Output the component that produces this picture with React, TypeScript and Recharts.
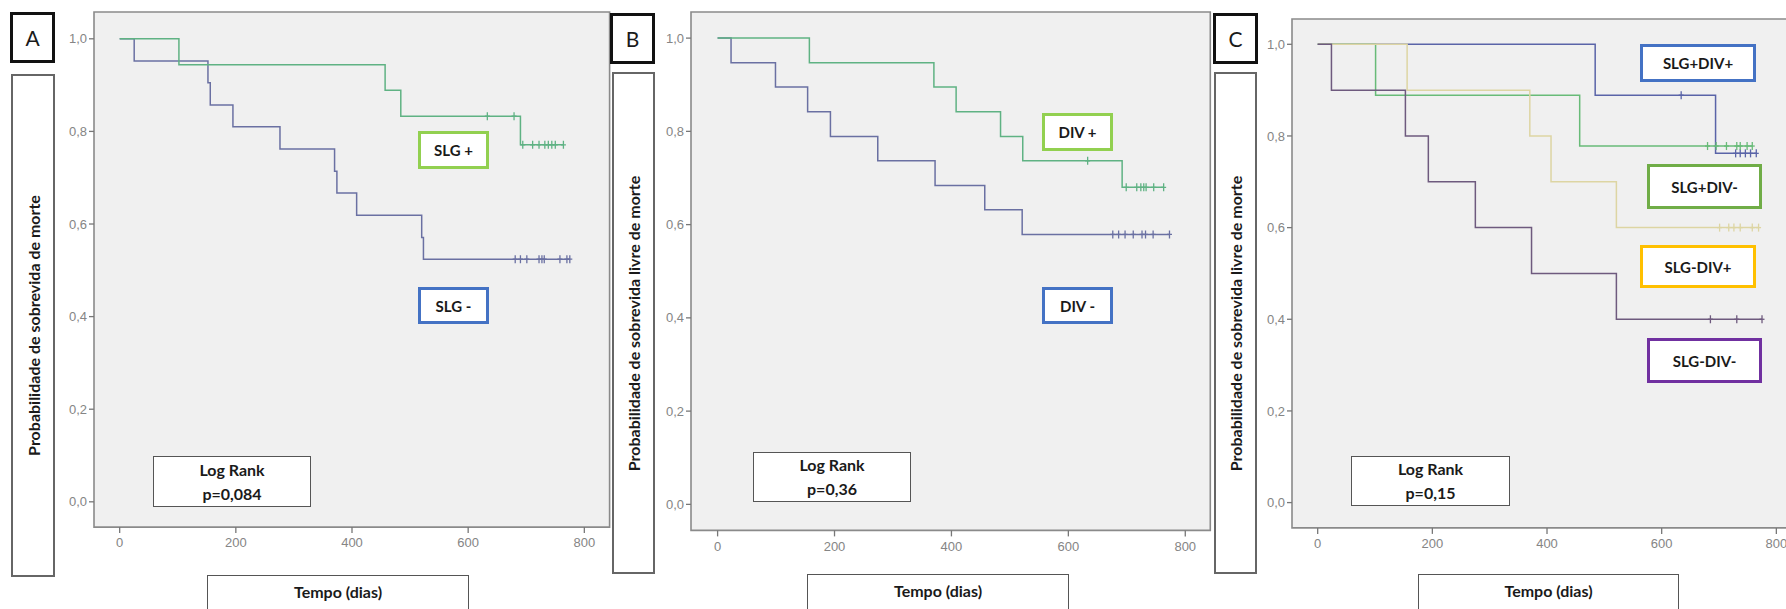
import React from 'react';
import { ComposedChart, Line, Scatter, XAxis, YAxis, CartesianGrid, ReferenceArea } from 'recharts';

// ---------- Panel A : SLG ----------
const slgPosTime = [0, 102, 457, 484, 690, 764];
const slgPosSurv = [1, 0.944, 0.889, 0.833, 0.771, 0.771];
const slgPosCensTime = [633, 679, 694, 711, 722, 732, 738, 744, 750, 764];
const slgPosCensSurv = [0.833, 0.833, 0.771, 0.771, 0.771, 0.771, 0.771, 0.771, 0.771, 0.771];

const slgNegTime = [0, 25, 152, 156, 195, 276, 370, 374, 408, 520, 523, 775];
const slgNegSurv = [1, 0.952, 0.905, 0.857, 0.81, 0.762, 0.714, 0.667, 0.619, 0.571, 0.524, 0.524];
const slgNegCensTime = [681, 690, 701, 722, 727, 731, 758, 770, 775];
const slgNegCensSurv = [0.524, 0.524, 0.524, 0.524, 0.524, 0.524, 0.524, 0.524, 0.524];

// ---------- Panel B : DIV ----------
const divPosTime = [0, 157, 370, 408, 484, 522, 692, 763];
const divPosSurv = [1, 0.947, 0.895, 0.842, 0.789, 0.737, 0.68, 0.68];
const divPosCensTime = [633, 699, 717, 724, 729, 733, 746, 763];
const divPosCensSurv = [0.737, 0.68, 0.68, 0.68, 0.68, 0.68, 0.68, 0.68];

const divNegTime = [0, 23, 99, 154, 193, 274, 372, 457, 521, 773];
const divNegSurv = [1, 0.947, 0.895, 0.842, 0.789, 0.737, 0.684, 0.632, 0.579, 0.579];
const divNegCensTime = [676, 686, 697, 711, 726, 732, 745, 773];
const divNegCensSurv = [0.579, 0.579, 0.579, 0.579, 0.579, 0.579, 0.579, 0.579];

// ---------- Panel C : SLG x DIV ----------
const ppTime = [0, 484, 694, 765];
const ppSurv = [1, 0.889, 0.762, 0.762];
const ppCensTime = [634, 729, 737, 746, 755, 765];
const ppCensSurv = [0.889, 0.762, 0.762, 0.762, 0.762, 0.762];

const pnTime = [0, 101, 457, 758];
const pnSurv = [1, 0.889, 0.778, 0.778];
const pnCensTime = [680, 695, 713, 731, 737, 749, 758];
const pnCensSurv = [0.778, 0.778, 0.778, 0.778, 0.778, 0.778, 0.778];

const npTime = [0, 156, 370, 407, 521, 769];
const npSurv = [1, 0.9, 0.8, 0.7, 0.6, 0.6];
const npCensTime = [701, 717, 726, 737, 758, 769];
const npCensSurv = [0.6, 0.6, 0.6, 0.6, 0.6, 0.6];

const nnTime = [0, 24, 153, 193, 275, 373, 521, 775];
const nnSurv = [1, 0.9, 0.8, 0.7, 0.6, 0.5, 0.4, 0.4];
const nnCensTime = [685, 731, 775];
const nnCensSurv = [0.4, 0.4, 0.4];

const xTicks = [0, 200, 400, 600, 800];
const yTicks = [0, 0.2, 0.4, 0.6, 0.8, 1.0];

const yTitleA = 'Probabilidade de sobrevida de morte';
const yTitleBC = 'Probabilidade de sobrevida livre de morte';
const xTitle = 'Tempo (dias)';

type Series = { time: number[]; surv: number[]; censTime: number[]; censSurv: number[]; color: string };
type Frame = { x: number; y: number; w: number; h: number };

const pts = (t: number[], s: number[]) => t.map((v, i) => ({ t: v, s: s[i] }));
const fmt = (v: number) => v.toFixed(1).replace('.', ',');

const YW = 55;
const MT = 6;
const MR = 6;
const XH = 42;
const FONT = 'Lato, "Open Sans", sans-serif';

function makeMark(color: string) {
  return (p: any) => (
    <g>
      <line x1={p.cx} y1={p.cy - 4} x2={p.cx} y2={p.cy + 4} stroke={color} strokeWidth={1.3} />
      <line x1={p.cx - 2.5} y1={p.cy} x2={p.cx + 2.5} y2={p.cy} stroke={color} strokeWidth={1.3} />
    </g>
  );
}

function Panel({ frame, xDomain, yDomain, series }: { frame: Frame; xDomain: number[]; yDomain: number[]; series: Series[] }) {
  return (
    <div style={{ position: 'absolute', left: frame.x - YW, top: frame.y - MT }}>
      <ComposedChart
        width={frame.w + YW + MR}
        height={frame.h + MT + XH}
        margin={{ top: MT, right: MR, bottom: 0, left: 0 }}
      >
        <CartesianGrid fill="#f0f0f0" horizontal={false} vertical={false} />
        <XAxis
          type="number"
          dataKey="t"
          domain={xDomain}
          ticks={xTicks}
          allowDataOverflow
          height={XH}
          tickSize={6}
          tickMargin={5}
          axisLine={false}
          tickLine={{ stroke: '#777', strokeWidth: 1.3 }}
          tick={{ fontSize: 13, fill: '#858585', fontFamily: '"Liberation Sans", Arial, sans-serif' }}
        />
        <YAxis
          type="number"
          domain={yDomain}
          ticks={yTicks}
          allowDataOverflow
          width={YW}
          tickSize={5}
          tickMargin={2}
          axisLine={false}
          tickFormatter={fmt}
          tickLine={{ stroke: '#777', strokeWidth: 1.3 }}
          tick={{ fontSize: 13, fill: '#858585', fontFamily: '"Liberation Sans", Arial, sans-serif' }}
        />
        <ReferenceArea
          x1={xDomain[0]}
          x2={xDomain[1]}
          y1={yDomain[0]}
          y2={yDomain[1]}
          fill="none"
          stroke="#8a8a8a"
          strokeWidth={1.6}
          ifOverflow="visible"
        />
        {series.map((s, i) => (
          <Line
            key={'l' + i}
            data={pts(s.time, s.surv)}
            dataKey="s"
            type="stepAfter"
            stroke={s.color}
            strokeWidth={1.5}
            dot={false}
            activeDot={false}
            isAnimationActive={false}
          />
        ))}
        {series.map((s, i) => (
          <Scatter
            key={'c' + i}
            data={pts(s.censTime, s.censSurv)}
            dataKey="s"
            shape={makeMark(s.color)}
            isAnimationActive={false}
          />
        ))}
      </ComposedChart>
    </div>
  );
}

function Box({ x, y, w, h, border, children, style }: any) {
  return (
    <div
      style={{
        position: 'absolute',
        left: x,
        top: y,
        width: w,
        height: h,
        boxSizing: 'border-box',
        border,
        background: '#fff',
        display: 'flex',
        alignItems: 'center',
        justifyContent: 'center',
        fontFamily: FONT,
        color: '#1a1a1a',
        ...style,
      }}
    >
      {children}
    </div>
  );
}

function VTitle({ x, y, w, h, text }: any) {
  return (
    <Box x={x} y={y} w={w} h={h} border="2px solid #666">
      <span style={{ transform: 'rotate(-90deg)', whiteSpace: 'nowrap', fontWeight: 700, fontSize: 16 }}>{text}</span>
    </Box>
  );
}

function LogRank({ x, y, w, h, p }: any) {
  return (
    <Box x={x} y={y} w={w} h={h} border="1.5px solid #555" style={{ flexDirection: 'column', fontWeight: 700, fontSize: 16, lineHeight: '24px' }}>
      <div>Log Rank</div>
      <div>{p}</div>
    </Box>
  );
}

function Tag({ x, y, w, h, color, text }: any) {
  return (
    <Box x={x} y={y} w={w} h={h} border={`3px solid ${color}`} style={{ fontWeight: 700, fontSize: 15 }}>
      {text}
    </Box>
  );
}

export default function App() {
  const blueA = '#6a70a2';
  const greenA = '#5fb283';
  return (
    <div style={{ position: 'fixed', left: 0, top: 0, width: 1786, height: 609, overflow: 'hidden', background: '#fff' }}>
      {/* Panel A */}
      <Panel
        frame={{ x: 94, y: 11.7, w: 515.6, h: 515.1 }}
        xDomain={[-44.2, 843.5]}
        yDomain={[-0.0546, 1.0579]}
        series={[
          { time: slgNegTime, surv: slgNegSurv, censTime: slgNegCensTime, censSurv: slgNegCensSurv, color: blueA },
          { time: slgPosTime, surv: slgPosSurv, censTime: slgPosCensTime, censSurv: slgPosCensSurv, color: greenA },
        ]}
      />
      <Box x={10} y={12} w={45} h={51} border="3px solid #111" style={{ fontSize: 21 }}>A</Box>
      <VTitle x={11} y={74} w={44} h={503} text={yTitleA} />
      <LogRank x={153} y={456} w={158} h={51} p="p=0,084" />
      <Tag x={418} y={131} w={71} h={38} color="#92d050" text="SLG +" />
      <Tag x={418} y={287} w={71} h={37} color="#4472c4" text="SLG -" />
      <Box x={207} y={575} w={262} h={40} border="1.5px solid #555" style={{ alignItems: 'flex-start', paddingTop: 6, fontWeight: 700, fontSize: 16 }}>{xTitle}</Box>

      {/* Panel B */}
      <Panel
        frame={{ x: 690.7, y: 11.6, w: 519.3, h: 518.4 }}
        xDomain={[-45.5, 842.8]}
        yDomain={[-0.0558, 1.056]}
        series={[
          { time: divNegTime, surv: divNegSurv, censTime: divNegCensTime, censSurv: divNegCensSurv, color: blueA },
          { time: divPosTime, surv: divPosSurv, censTime: divPosCensTime, censSurv: divPosCensSurv, color: greenA },
        ]}
      />
      <Box x={610} y={13} w={45} h={51} border="3px solid #111" style={{ fontSize: 21 }}>B</Box>
      <VTitle x={612} y={72} w={43} h={502} text={yTitleBC} />
      <LogRank x={753} y={452} w={158} h={50} p="p=0,36" />
      <Tag x={1042} y={113} w={71} h={38} color="#92d050" text="DIV +" />
      <Tag x={1042} y={287} w={71} h={37} color="#4472c4" text="DIV -" />
      <Box x={807} y={574} w={262} h={40} border="1.5px solid #555" style={{ alignItems: 'flex-start', paddingTop: 6, fontWeight: 700, fontSize: 16 }}>{xTitle}</Box>

      {/* Panel C */}
      <Panel
        frame={{ x: 1291.6, y: 19.4, w: 509, h: 508.9 }}
        xDomain={[-44.8, 843]}
        yDomain={[-0.0552, 1.0552]}
        series={[
          { time: ppTime, surv: ppSurv, censTime: ppCensTime, censSurv: ppCensSurv, color: '#5a64a8' },
          { time: pnTime, surv: pnSurv, censTime: pnCensTime, censSurv: pnCensSurv, color: '#68bb78' },
          { time: npTime, surv: npSurv, censTime: npCensTime, censSurv: npCensSurv, color: '#ddd5a3' },
          { time: nnTime, surv: nnSurv, censTime: nnCensTime, censSurv: nnCensSurv, color: '#6e5a7e' },
        ]}
      />
      <Box x={1213} y={13} w={45} h={51} border="3px solid #111" style={{ fontSize: 21 }}>C</Box>
      <VTitle x={1214} y={72} w={43} h={502} text={yTitleBC} />
      <LogRank x={1351} y={456} w={159} h={50} p="p=0,15" />
      <Tag x={1640} y={44} w={116} h={38} color="#4472c4" text="SLG+DIV+" />
      <Tag x={1647} y={164} w={115} h={45} color="#70ad47" text="SLG+DIV-" />
      <Tag x={1640} y={245} w={116} h={43} color="#ffc000" text="SLG-DIV+" />
      <Tag x={1647} y={338} w={115} h={45} color="#7030a0" text="SLG-DIV-" />
      <Box x={1418} y={574} w={261} h={40} border="1.5px solid #555" style={{ alignItems: 'flex-start', paddingTop: 6, fontWeight: 700, fontSize: 16 }}>{xTitle}</Box>
    </div>
  );
}
